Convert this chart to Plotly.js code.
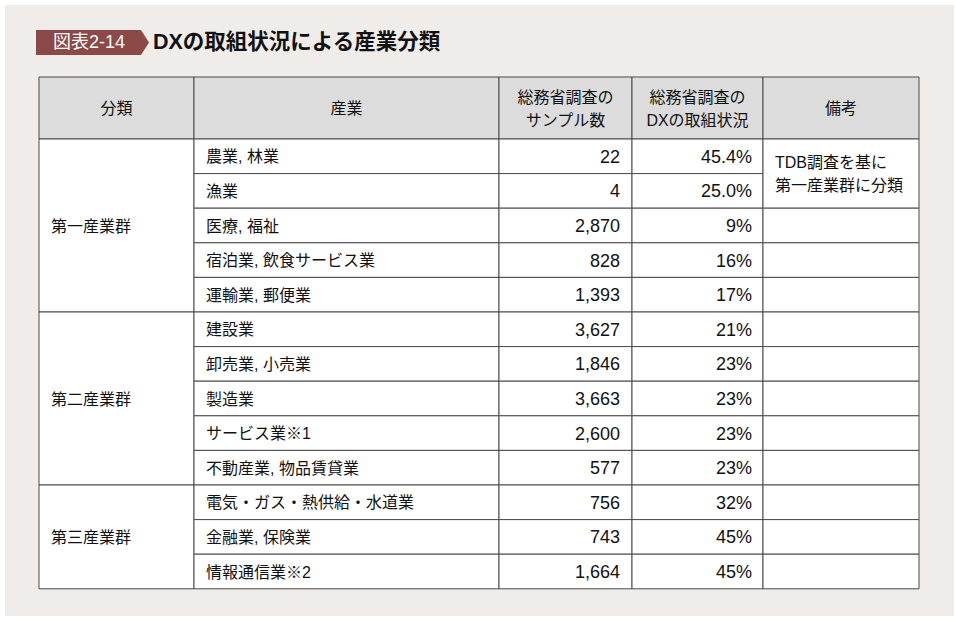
<!DOCTYPE html>
<html>
<head>
<meta charset="utf-8">
<script src="https://cdn.plot.ly/plotly-3.0.1.min.js"></script>
<style>
  html, body { margin: 0; padding: 0; background: #ffffff; }
  #chart { width: 955px; height: 621px; }
</style>
</head>
<body>
<div id="chart"></div>
<script>
// table contents
const figureLabel = "図表2-14";
const figureTitle = "DXの取組状況による産業分類";
const headerLines = [
  ["分類"],
  ["産業"],
  ["総務省調査の", "サンプル数"],
  ["総務省調査の", "DXの取組状況"],
  ["備考"],
];
const groups = ["第一産業群", "第二産業群", "第三産業群"];
const groupSizes = [5, 5, 3];
const industries = [
  "農業, 林業", "漁業", "医療, 福祉", "宿泊業, 飲食サービス業", "運輸業, 郵便業",
  "建設業", "卸売業, 小売業", "製造業", "サービス業※1", "不動産業, 物品賃貸業",
  "電気・ガス・熱供給・水道業", "金融業, 保険業", "情報通信業※2",
];
const samples = [22, 4, 2870, 828, 1393, 3627, 1846, 3663, 2600, 577, 756, 743, 1664];
const dxRates = ["45.4%", "25.0%", "9%", "16%", "17%", "21%", "23%", "23%", "23%", "23%", "32%", "45%", "45%"];
const noteLines = ["TDB調査を基に", "第一産業群に分類"];
const noteRowSpan = 2;

// layout of the grid (pixels, y downwards)
const colEdges = [39, 194, 499, 632, 763, 919];
const headTop = 77;
const bodyTop = 139;
const rowH = 34.6;
const dy = 2; // text baseline nudge
const font = "Liberation Sans, Noto Sans CJK JP, sans-serif";
const lineColor = "#4a4a4a";

const rowY = (i) => bodyTop + rowH * (i + 0.5) + dy;
const shapes = [];
const rect = (x0, y0, x1, y1, fill, w) =>
  shapes.push({ type: "rect", xref: "x", yref: "y", x0, y0, x1, y1,
    fillcolor: fill, line: { color: lineColor, width: w || 1 }, layer: "below" });

// page background
shapes.push({ type: "rect", xref: "x", yref: "y", x0: 5, y0: 5, x1: 954, y1: 616,
  fillcolor: "#f0ece9", line: { width: 0 }, layer: "below" });

// title badge with arrow tip
shapes.push({ type: "path", xref: "x", yref: "y",
  path: "M 36 30 L 141 30 L 149 42.5 L 141 55 L 36 55 Z",
  fillcolor: "#8b4a48", line: { width: 0 }, layer: "below" });

// header cells
for (let c = 0; c < 5; c++) rect(colEdges[c], headTop, colEdges[c + 1], bodyTop, "#dcdcdc");

// body cells
const nRows = industries.length;
let start = 0;
groupSizes.forEach((n) => {
  rect(colEdges[0], bodyTop + rowH * start, colEdges[1], bodyTop + rowH * (start + n), "#ffffff");
  start += n;
});
for (let i = 0; i < nRows; i++) {
  for (let c = 1; c < 4; c++) {
    rect(colEdges[c], bodyTop + rowH * i, colEdges[c + 1], bodyTop + rowH * (i + 1), "#ffffff");
  }
}
rect(colEdges[4], bodyTop, colEdges[5], bodyTop + rowH * noteRowSpan, "#ffffff");
for (let i = noteRowSpan; i < nRows; i++) {
  rect(colEdges[4], bodyTop + rowH * i, colEdges[5], bodyTop + rowH * (i + 1), "#ffffff");
}

const traces = [];
const textTrace = (x, y, text, pos, size, color) => ({
  x, y, text, type: "scatter", mode: "text", textposition: pos, hoverinfo: "skip",
  textfont: { family: font, size: size || 16, color: color || "#111111" }, showlegend: false,
});

// header texts
const hx = [], hy = [], ht = [];
headerLines.forEach((lines, c) => {
  const cx = (colEdges[c] + colEdges[c + 1]) / 2;
  lines.forEach((t, k) => {
    hx.push(cx);
    hy.push((headTop + bodyTop) / 2 + (k - (lines.length - 1) / 2) * 23 + dy);
    ht.push(t);
  });
});
traces.push(textTrace(hx, hy, ht, "middle center"));

// group labels
const gy = [];
start = 0;
groupSizes.forEach((n) => { gy.push(bodyTop + rowH * (start + n / 2) + dy); start += n; });
traces.push(textTrace(groups.map(() => colEdges[0] + 12), gy, groups, "middle right"));

// industries
traces.push(textTrace(industries.map(() => colEdges[1] + 12), industries.map((_, i) => rowY(i)), industries, "middle right"));

// numbers
traces.push(textTrace(samples.map(() => colEdges[3] - 12), samples.map((_, i) => rowY(i)),
  samples.map((v) => v.toLocaleString("en-US")), "middle left", 18));
traces.push(textTrace(dxRates.map(() => colEdges[4] - 11), dxRates.map((_, i) => rowY(i)), dxRates, "middle left", 18));

// note
const noteMid = bodyTop + rowH * noteRowSpan / 2 + dy;
traces.push(textTrace(noteLines.map(() => colEdges[4] + 12), noteLines.map((_, k) => noteMid + (k - 0.5) * 23), noteLines, "middle right"));

// title
traces.push(textTrace([89], [43.5], [figureLabel], "middle center", 18, "#ffffff"));
traces.push(textTrace([153], [44], ["<b>" + figureTitle + "</b>"], "middle right", 21.5, "#111111"));

Plotly.newPlot("chart", traces, {
  width: 955,
  height: 621,
  margin: { l: 0, r: 0, t: 0, b: 0 },
  paper_bgcolor: "#ffffff",
  plot_bgcolor: "rgba(0,0,0,0)",
  xaxis: { range: [0, 955], visible: false, fixedrange: true },
  yaxis: { range: [621, 0], visible: false, fixedrange: true },
  shapes,
  showlegend: false,
}, { staticPlot: true });
</script>
</body>
</html>
